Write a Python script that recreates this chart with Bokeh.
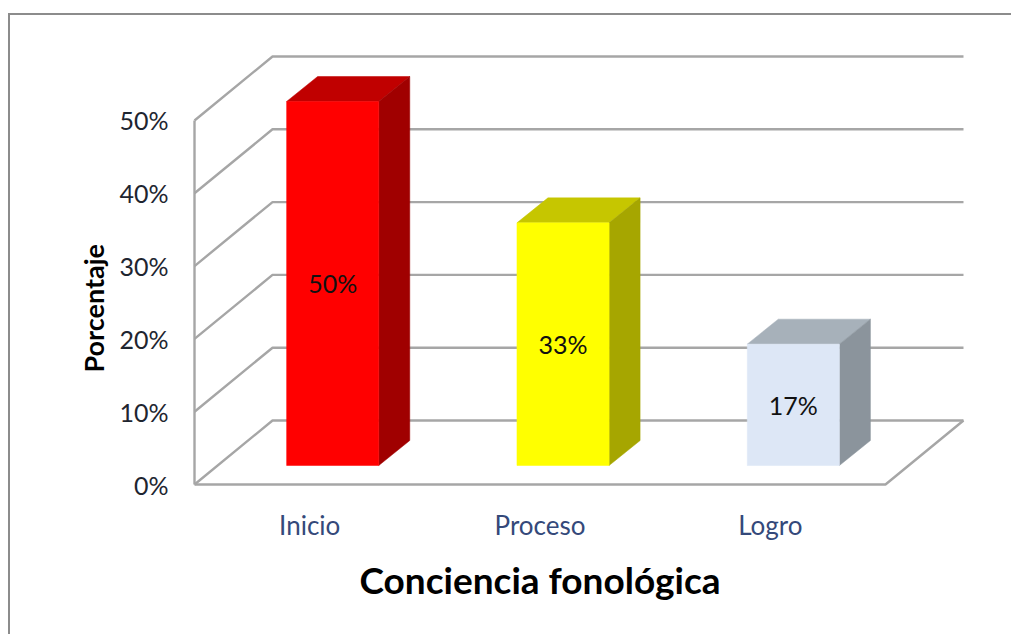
from bokeh.plotting import figure
from bokeh.models import Range1d, FixedTicker, Title, ColumnDataSource
from bokeh.core.properties import value
from bokeh.embed import file_html
from bokeh.resources import INLINE

categories = ["Inicio", "Proceso", "Logro"]
percentages = [50.0, 33.33, 16.67]
y_ticks = [0, 10, 20, 30, 40, 50]
front_colors = ["#FF0000", "#FFFF00", "#DDE7F6"]
side_colors = ["#A00000", "#A6A600", "#8B949C"]
top_colors = ["#C00000", "#C6C600", "#A7B1BA"]

FONT = "Lato"
GRID = "#A6A6A6"
WALL_DX, WALL_DY = 0.3387, 8.79
BAR_W, BAR_SHIFT_X, BAR_FLOOR = 0.40, 0.100, 2.61
BAR_DX, BAR_DY = 0.1346, 3.43

p = figure(width=1003, height=621, output_backend="svg", toolbar_location=None,
           x_range=Range1d(-0.0174, 3.5558), y_range=Range1d(-0.824, 64.42),
           min_border_left=180, min_border_right=0, min_border_top=0, min_border_bottom=146,
           outline_line_color=None, background_fill_color="white", border_fill_color="white",
           margin=(15, 0, 0, 10))
p.styles = {"box-shadow": "-2px -2px 0 0 #8C8C8C"}
p.grid.visible = False

# axes
p.yaxis.ticker = FixedTicker(ticks=y_ticks)
p.yaxis.major_label_overrides = {t: f"{t}%" for t in y_ticks}
p.yaxis.axis_line_color = None
p.yaxis.major_tick_line_color = None
p.yaxis.minor_tick_line_color = None
p.yaxis.major_tick_out = 0
p.yaxis.major_label_text_font = FONT
p.yaxis.major_label_text_font_size = "25px"
p.yaxis.major_label_text_color = "#1E2530"
p.yaxis.major_label_standoff = 22

xpos = [i + 0.5 for i in range(len(categories))]
p.xaxis.ticker = FixedTicker(ticks=xpos)
p.xaxis.major_label_overrides = dict(zip(xpos, categories))
p.xaxis.axis_line_color = None
p.xaxis.major_tick_line_color = None
p.xaxis.minor_tick_line_color = None
p.xaxis.major_tick_out = 0
p.xaxis.major_label_text_font = FONT
p.xaxis.major_label_text_font_size = "26px"
p.xaxis.major_label_text_color = "#34497A"
p.xaxis.major_label_standoff = 18

# walls and floor
n = len(categories)
xs, ys = [], []
for t in y_ticks:
    xs.append([0, WALL_DX, n + WALL_DX])
    ys.append([t, t + WALL_DY, t + WALL_DY])
xs.append([0, 0]); ys.append([y_ticks[0], y_ticks[-1]])
xs.append([0, n, n + WALL_DX]); ys.append([0, 0, WALL_DY])
p.multi_line(xs, ys, line_color=GRID, line_width=2.4)

# bars
lefts = [x + BAR_SHIFT_X - BAR_W / 2 for x in xpos]
rights = [l + BAR_W for l in lefts]
bottoms = [BAR_FLOOR] * n
tops = [BAR_FLOOR + v for v in percentages]

top_x = [[l, l + BAR_DX, r + BAR_DX, r] for l, r in zip(lefts, rights)]
top_y = [[t, t + BAR_DY, t + BAR_DY, t] for t in tops]
side_x = [[r, r + BAR_DX, r + BAR_DX, r] for r in rights]
side_y = [[b, b + BAR_DY, t + BAR_DY, t] for b, t in zip(bottoms, tops)]
p.patches(top_x, top_y, fill_color=top_colors, line_color=top_colors, line_width=0.5)
p.patches(side_x, side_y, fill_color=side_colors, line_color=side_colors, line_width=0.5)
p.quad(left=lefts, right=rights, bottom=bottoms, top=tops,
       fill_color=front_colors, line_color=front_colors, line_width=0.5)

src = ColumnDataSource(dict(x=[(l + r) / 2 for l, r in zip(lefts, rights)],
                            y=[(b + t) / 2 for b, t in zip(bottoms, tops)],
                            t=[f"{round(v)}%" for v in percentages]))
p.text("x", "y", "t", source=src, text_align="center", text_baseline="middle",
       text_font=value(FONT), text_font_size="25px", text_color="#111111")

# titles
p.add_layout(Title(text="Conciencia fonológica", align="left", offset=169, standoff=23,
                   text_font=FONT, text_font_size="37px", text_font_style="bold",
                   text_color="#000000"), "below")
p.add_layout(Title(text="Porcentaje", align="left", offset=118, standoff=13,
                   text_font=FONT, text_font_size="27px", text_font_style="bold",
                   text_color="#000000"), "left")

open("out.html", "w").write(file_html(p, INLINE))
